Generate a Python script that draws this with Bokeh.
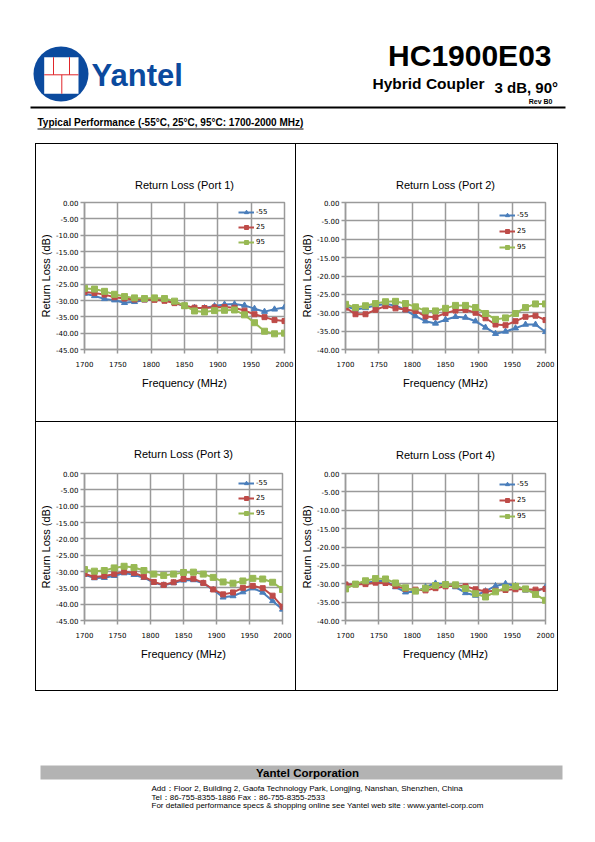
from bokeh.plotting import figure
from bokeh.models import (Range1d, FixedTicker, NumeralTickFormatter, Legend, LegendItem,
                          Spacer, Div)
from bokeh.layouts import column, row
from bokeh.embed import file_html
from bokeh.resources import INLINE
from bokeh.core.properties import value

# ---------------- data ----------------
FREQ_MHZ = [1700, 1715, 1730, 1745, 1760, 1775, 1790, 1805, 1820, 1835, 1850,
            1865, 1880, 1895, 1910, 1925, 1940, 1955, 1970, 1985, 2000]
X_TICKS = [1700, 1750, 1800, 1850, 1900, 1950, 2000]
Y_TICKS_45 = [-45, -40, -35, -30, -25, -20, -15, -10, -5, 0]
Y_TICKS_40 = [-40, -35, -30, -25, -20, -15, -10, -5, 0]
SERIES_NAMES = ["-55", "25", "95"]

PORT1_M55 = [-27.9, -28.6, -29.5, -29.9, -30.7, -30.4, -29.9, -29.6, -29.7, -30.7, -31.7,
             -32.2, -32.3, -31.7, -31.2, -31.1, -31.5, -32.5, -33.4, -32.7, -32.1]
PORT1_25 = [-27.4, -27.7, -28.2, -29.0, -29.4, -29.7, -29.7, -29.8, -30.1, -30.8, -31.6,
            -32.2, -32.3, -32.1, -32.0, -32.2, -33.1, -34.2, -35.1, -36.0, -36.3]
PORT1_95 = [-26.3, -26.5, -27.2, -28.1, -28.8, -29.2, -29.4, -29.2, -29.4, -30.2, -31.6,
            -33.2, -33.5, -33.1, -33.0, -32.9, -34.4, -36.8, -39.4, -40.2, -40.0]

PORT2_M55 = [-28.2, -29.1, -28.7, -28.0, -27.6, -28.0, -29.3, -30.9, -32.3, -32.9, -31.9,
             -31.1, -31.3, -32.3, -34.0, -35.7, -35.1, -34.2, -33.2, -33.2, -35.2]
PORT2_25 = [-28.6, -30.4, -30.4, -29.2, -28.2, -28.8, -29.1, -29.5, -31.0, -31.2, -30.1,
            -29.4, -29.2, -30.0, -31.5, -33.2, -33.4, -32.3, -31.1, -30.8, -32.0]
PORT2_95 = [-27.7, -28.6, -28.1, -27.5, -27.0, -26.9, -27.5, -28.4, -29.5, -29.5, -28.8,
            -28.0, -28.0, -28.6, -30.2, -31.8, -31.4, -30.2, -28.6, -27.6, -27.6]

PORT3_M55 = [-30.9, -32.0, -31.9, -31.3, -30.5, -31.0, -31.9, -33.4, -34.2, -33.5, -32.7,
             -32.6, -33.6, -35.6, -37.9, -37.5, -36.3, -35.1, -36.4, -39.0, -41.6]
PORT3_25 = [-30.7, -31.7, -31.4, -30.8, -30.1, -30.4, -31.6, -33.2, -34.1, -33.3, -32.3,
            -32.2, -33.5, -35.5, -37.0, -36.4, -35.0, -34.4, -35.1, -37.4, -40.8]
PORT3_95 = [-29.4, -29.9, -29.7, -28.9, -28.4, -28.8, -29.7, -30.8, -31.2, -30.8, -30.3,
            -30.2, -30.8, -31.8, -33.2, -33.6, -32.9, -32.1, -32.3, -33.3, -35.5]

PORT4_M55 = [-30.2, -30.3, -29.8, -29.3, -29.2, -30.9, -32.3, -32.2, -30.9, -29.9, -30.1,
             -30.9, -32.5, -33.2, -32.0, -30.6, -30.0, -30.6, -31.8, -32.3, -30.9]
PORT4_25 = [-30.2, -30.2, -30.1, -29.7, -29.8, -30.6, -31.4, -31.6, -31.8, -31.2, -30.7,
            -30.5, -30.7, -31.5, -32.1, -31.9, -31.7, -31.5, -31.5, -31.6, -31.4]
PORT4_95 = [-31.4, -30.1, -29.2, -28.6, -28.7, -29.8, -31.1, -32.0, -31.2, -30.5, -30.2,
            -30.3, -31.3, -32.7, -33.6, -32.2, -31.1, -30.7, -31.4, -32.9, -34.5]

# ---------------- style ----------------
COLORS = ["#4a7ebb", "#be4b48", "#98b954"]
MARKERS = ["triangle", "square", "square"]
MARKER_SIZES = [6, 5, 6]
GRID = "#9a9a9a"
SANS = "Liberation Sans"
TICK_FONT = "DejaVu Sans"
LOGO_BLUE = "#0b4a9e"
LOGO_RED = "#e0262b"
PAGE_W = 590


def make_chart(title, series, y_min, y_ticks, w, h, ml, mr, mt, mb,
               title_standoff, legend_first, legend_spacing):
    p = figure(width=w, height=h, output_backend="svg", toolbar_location=None,
               x_range=Range1d(1700, 2000), y_range=Range1d(y_min, 0),
               min_border_left=ml, min_border_right=mr,
               min_border_top=mt, min_border_bottom=mb,
               background_fill_color="white", border_fill_color="white")
    p.title.text = title
    p.title.align = "center"
    p.title.text_font = SANS
    p.title.text_font_size = "11px"
    p.title.text_font_style = "normal"
    p.title.text_color = "black"
    p.title.standoff = title_standoff

    p.xaxis.ticker = FixedTicker(ticks=X_TICKS)
    p.yaxis.ticker = FixedTicker(ticks=y_ticks)
    p.yaxis.formatter = NumeralTickFormatter(format="0.00")
    p.xaxis.formatter = NumeralTickFormatter(format="0")
    p.xaxis.axis_label = "Frequency (MHz)"
    p.yaxis.axis_label = "Return Loss (dB)"
    for ax in (p.xaxis[0], p.yaxis[0]):
        ax.axis_line_color = GRID
        ax.axis_line_width = 1.5
        ax.major_tick_line_color = GRID
        ax.major_tick_line_width = 1.5
        ax.major_tick_out = 4
        ax.major_tick_in = 0
        ax.minor_tick_line_color = None
        ax.major_label_text_font = TICK_FONT
        ax.major_label_text_font_size = "7px"
        ax.major_label_text_color = "black"
        ax.axis_label_text_font = SANS
        ax.axis_label_text_font_size = "11px"
        ax.axis_label_text_font_style = "normal"
        ax.axis_label_text_color = "black"
    p.xaxis.major_label_standoff = 7
    p.yaxis.major_label_standoff = 2
    p.xaxis.axis_label_standoff = 7
    p.yaxis.axis_label_standoff = 1

    p.grid.grid_line_color = GRID
    p.grid.grid_line_width = 1.5
    p.outline_line_color = GRID
    p.outline_line_width = 1.5

    items = []
    for (name, ys), color, marker, size in zip(series, COLORS, MARKERS, MARKER_SIZES):
        rl = p.line(FREQ_MHZ, ys, line_color=color, line_width=2)
        rm = p.scatter(FREQ_MHZ, ys, marker=marker, size=size,
                       fill_color=color, line_color=color)
        items.append(LegendItem(label=name, renderers=[rl, rm]))

    frame_h = h - mt - mb
    leg_h = 3 * 10 + 2 * legend_spacing
    leg_top = legend_first - 5
    legend = Legend(items=items, location=(154, frame_h - leg_top - leg_h),
                    orientation="vertical", padding=0, margin=0,
                    spacing=legend_spacing, glyph_width=16, glyph_height=10,
                    label_height=10, label_standoff=2,
                    label_text_font=TICK_FONT, label_text_font_size="7px",
                    label_text_color="black",
                    border_line_alpha=0, background_fill_alpha=0)
    p.add_layout(legend)
    return p


# cell geometry: box lines at x=35, 295, 557 and y=143, 421, 690
f1 = make_chart("Return Loss (Port 1)",
                list(zip(SERIES_NAMES, [PORT1_M55, PORT1_25, PORT1_95])),
                -45, Y_TICKS_45, 259, 277, 48, 11, 56, 72, 24, 12, 5)
f2 = make_chart("Return Loss (Port 2)",
                list(zip(SERIES_NAMES, [PORT2_M55, PORT2_25, PORT2_95])),
                -40, Y_TICKS_40, 261, 277, 49, 12, 58, 71, 24, 14, 6)
f3 = make_chart("Return Loss (Port 3)",
                list(zip(SERIES_NAMES, [PORT3_M55, PORT3_25, PORT3_95])),
                -45, Y_TICKS_45, 259, 268, 48, 13, 51, 70, 27, 10, 5)
f4 = make_chart("Return Loss (Port 4)",
                list(zip(SERIES_NAMES, [PORT4_M55, PORT4_25, PORT4_95])),
                -40, Y_TICKS_40, 261, 268, 49, 12, 50, 70, 25, 12, 6)


def vline(h):
    return Div(width=1, height=h, margin=0, styles={"background-color": "black"})


def hline():
    return row(Spacer(width=35, height=1, margin=0),
               Div(width=523, height=1, margin=0, styles={"background-color": "black"}))


def deco_fig(height, y_top, y_bottom):
    d = figure(width=PAGE_W, height=height, output_backend="svg", toolbar_location=None,
               x_range=Range1d(0, PAGE_W), y_range=Range1d(y_bottom, y_top),
               x_axis_type=None, y_axis_type=None, min_border=0,
               outline_line_color=None, background_fill_color="white",
               border_fill_color="white")
    return d


def put_text(fig, x, y, txt, size, font=SANS, style="bold", align="left", color="black"):
    fig.text(x=[x], y=[y], text=[txt], text_font=value(font), text_font_size=size,
             text_font_style=style, text_align=align, text_baseline="middle",
             text_color=color)


# ---------------- header (page y 0..143) ----------------
hdr = deco_fig(143, 0, 143)
hdr.circle(x=[60.5], y=[73.5], radius=27.5, fill_color=LOGO_BLUE, line_color=None)
hdr.quad(left=[43.7], right=[78], top=[56.7], bottom=[93.3],
         fill_color="white", line_color=None)
hdr.segment(x0=[43.7, 53, 69, 61.3], y0=[74.3, 56.7, 56.7, 74.3],
            x1=[78, 53, 69, 61.3], y1=[74.3, 74.3, 74.3, 93.3],
            line_color=LOGO_RED, line_width=1)
put_text(hdr, 91, 75, "Yantel", "31px", font="Liberation Sans Narrow, Liberation Sans",
         color=LOGO_BLUE)
put_text(hdr, 551, 55, "HC1900E03", "30px", align="right")
put_text(hdr, 372, 83, "Hybrid Coupler", "15.5px")
put_text(hdr, 494, 87, "3 dB, 90°", "15px")
put_text(hdr, 552, 100.5, "Rev B0", "7px", align="right")
hdr.line([30, 565], [107, 107], line_color="black", line_width=2)
put_text(hdr, 37, 122, "Typical Performance (-55°C, 25°C, 95°C:  1700-2000 MHz)", "10px")
hdr.line([37, 303], [128.5, 128.5], line_color="black", line_width=1)

# ---------------- footer (page y 691..835) ----------------
ftr = deco_fig(144, 691, 835)
ftr.quad(left=[40], right=[562], top=[765], bottom=[779],
         fill_color="#b3b3b3", line_color=None)
put_text(ftr, 307, 772, "Yantel Corporation", "11.5px", align="center")
put_text(ftr, 151, 787.5,
         "Add：Floor 2, Building 2, Gaofa Technology Park, Longjing, Nanshan, Shenzhen, China",
         "8px", style="normal")
put_text(ftr, 151, 796.5, "Tel：86-755-8355-1886 Fax：86-755-8355-2533", "8px", style="normal")
put_text(ftr, 151, 805,
         "For detailed performance specs & shopping online see Yantel web site : www.yantel-corp.com",
         "8px", style="normal")

page = column(hdr,
              hline(),
              row(Spacer(width=35, height=277, margin=0), vline(277), f1, vline(277), f2,
                  vline(277)),
              hline(),
              row(Spacer(width=35, height=268, margin=0), vline(268), f3, vline(268), f4,
                  vline(268)),
              hline(),
              ftr)

open("out.html", "w").write(file_html(page, INLINE))
